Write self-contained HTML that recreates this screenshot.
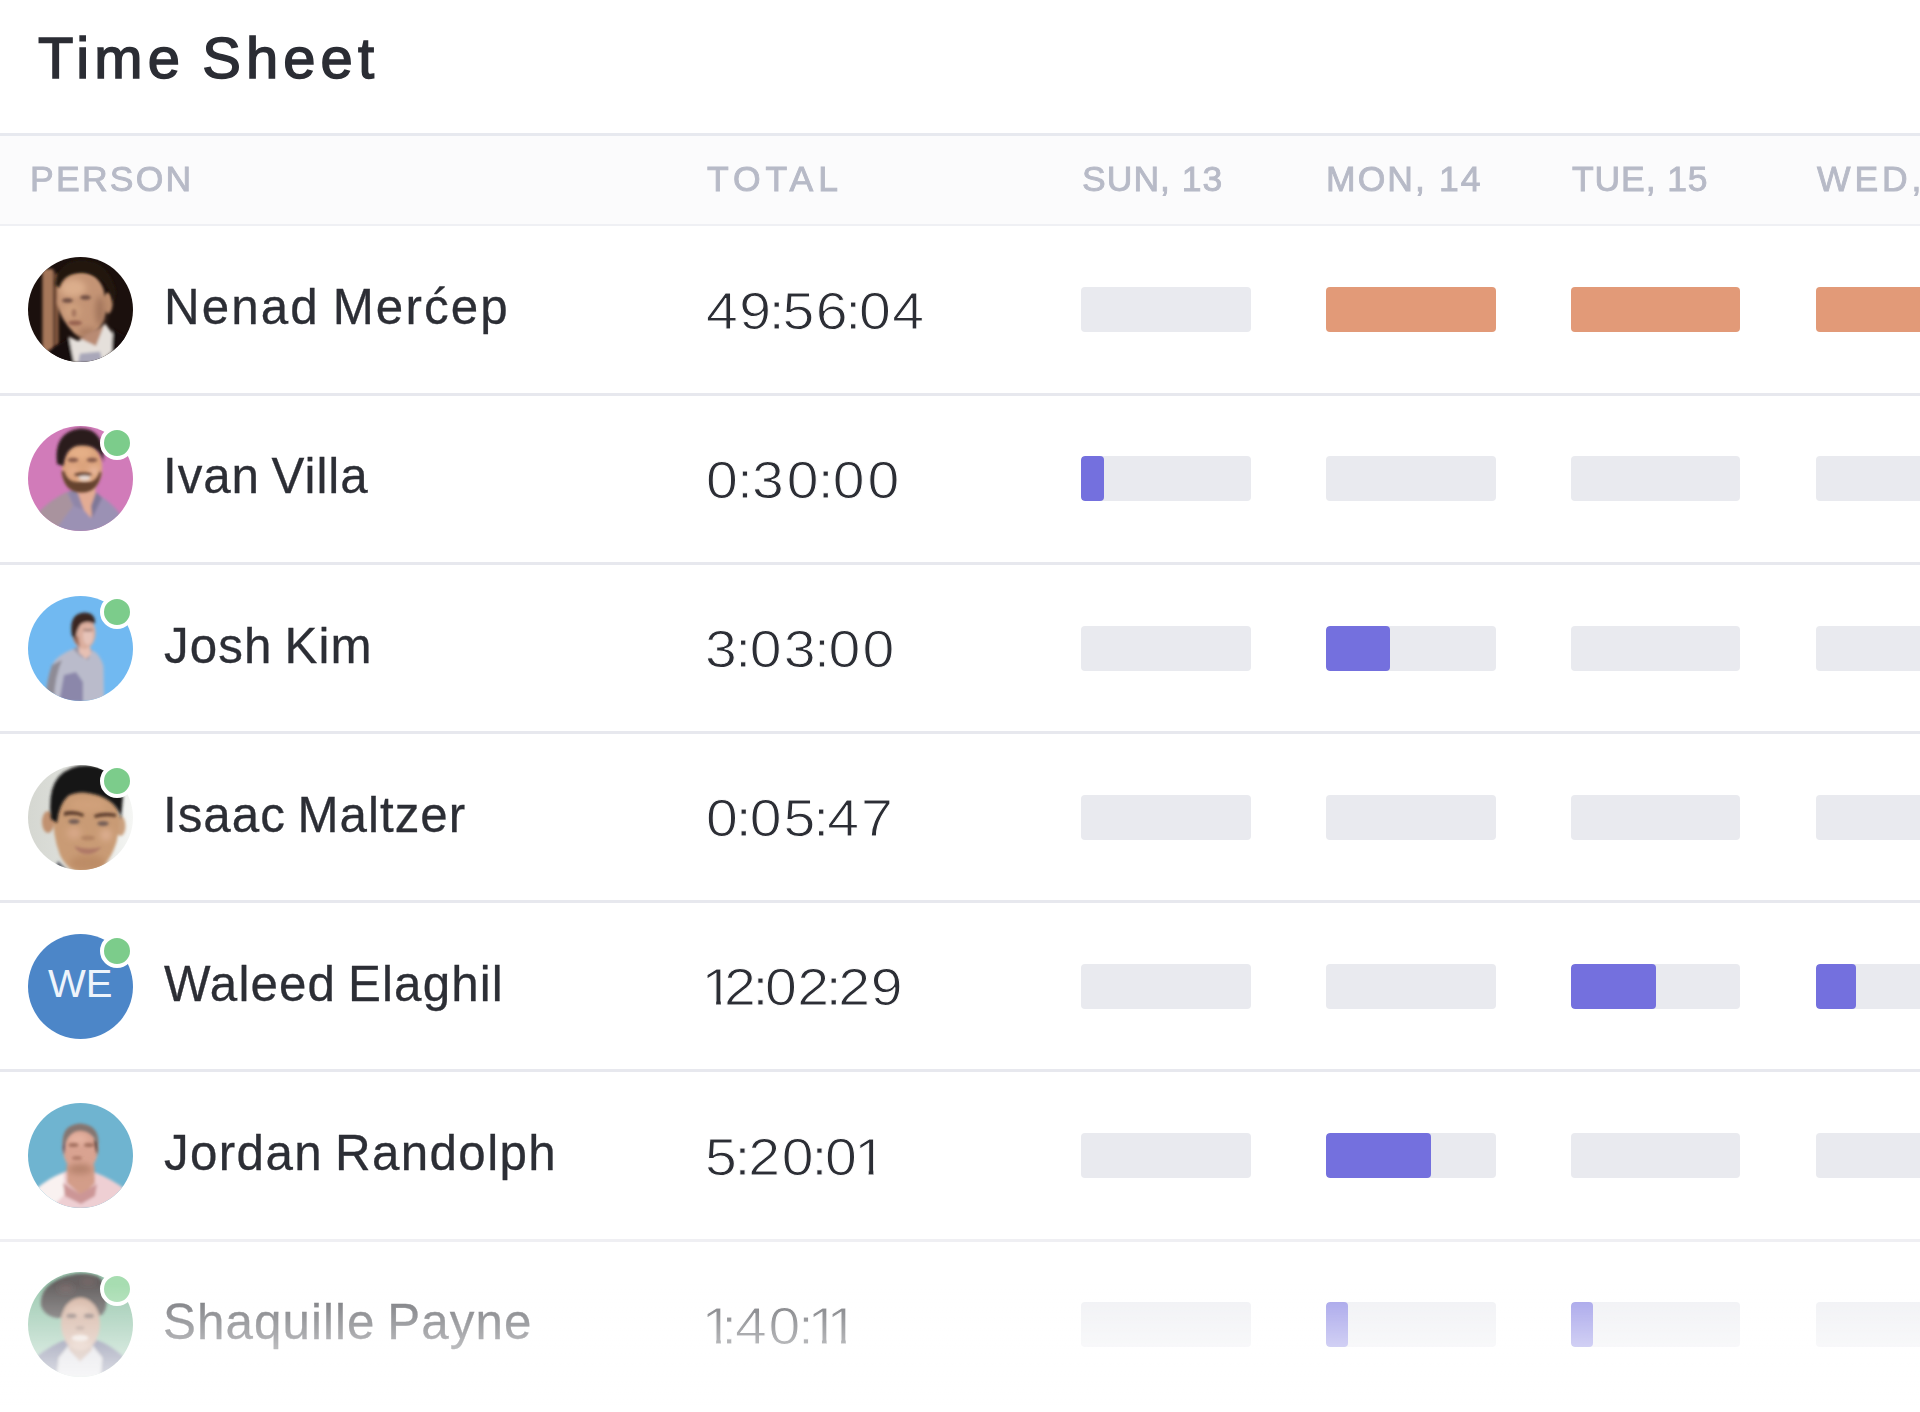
<!DOCTYPE html>
<html lang="en">
<head>
<meta charset="utf-8">
<title>Time Sheet</title>
<style>
html,body{margin:0;padding:0;}
html{overflow:hidden;}
body{width:1920px;height:1412px;overflow:hidden;background:#fff;
  font-family:"Liberation Sans","DejaVu Sans",sans-serif;color:#2a2c33;}
#page{position:absolute;left:0;top:0;width:1920px;height:1412px;overflow:hidden;background:#fff;}
.abs{position:absolute;white-space:nowrap;}
.name,.th{will-change:transform;}
#title{left:37.5px;top:23px;font-size:56.5px;line-height:72px;font-weight:400;color:#2b2d34;
  -webkit-text-stroke:1.5px #2b2d34;letter-spacing:5px;word-spacing:-4px;transform:scaleX(1.025);transform-origin:left center;}
#thead{left:0;top:133px;width:1920px;height:92.5px;background:#fbfbfc;
  border-top:3px solid #e7e9ef;border-bottom:2.5px solid #eff0f4;box-sizing:border-box;}
.th{top:158px;font-size:35.5px;line-height:42px;color:#b7bac7;-webkit-text-stroke:0.9px #b7bac7;letter-spacing:3.4px;}
.sep{left:0;width:1920px;height:3px;background:#e7e8ee;}
.name{left:164px;word-spacing:-3px;font-size:49.3px;line-height:60px;color:#2c2e35;-webkit-text-stroke:0.3px #2c2e35;}
.total{left:706px;font-size:52px;line-height:60px;color:#2c2e35;-webkit-text-stroke:1px #fff;
  transform:scaleX(1.1);transform-origin:left center;letter-spacing:1.8px;}
.total .c{margin:0 -3.5px;}
.total .one{display:inline-block;margin:0 -9px 0 -4px;clip-path:polygon(0 0,18.4px 0,18.4px 43.4px,17.45px 43.4px,17.45px 100%,13.25px 100%,13.25px 43.4px,0 43.4px);}
.bar{width:169.5px;height:45px;border-radius:4px;background:#e9eaef;overflow:hidden;}
.bar i{display:block;height:100%;background:#7470de;border-radius:4px;}
.bar.o{background:#e29a78;}
.av{left:28.3px;width:105px;height:105px;border-radius:50%;overflow:hidden;}
.av svg{display:block;}
.dot{left:99.6px;width:26px;height:26px;border-radius:50%;background:#7ccc8b;border:4px solid #fff;}
#fade{left:0;top:1234px;width:1920px;height:178px;
  background:linear-gradient(to bottom,rgba(255,255,255,.33) 0,rgba(255,255,255,.33) 50px,rgba(255,255,255,1) 173px);}
</style>
</head>
<body>
<svg width="0" height="0" style="position:absolute"><defs><filter id="b2" x="-10%" y="-10%" width="120%" height="120%"><feGaussianBlur stdDeviation="1.5"/></filter><filter id="b3" x="-20%" y="-20%" width="140%" height="140%"><feGaussianBlur stdDeviation="3.2"/></filter></defs></svg>
<div id="page">
<div class="abs" id="title">Time Sheet</div>
<div class="abs" id="thead"></div>
<div class="abs th" id="h0" style="left:29.6px;letter-spacing:2.26px">PERSON</div>
<div class="abs th" id="h1" style="left:707.1px;letter-spacing:4.96px">TOTAL</div>
<div class="abs th" id="h2" style="left:1082.1px;letter-spacing:1.03px">SUN, 13</div>
<div class="abs th" id="h3" style="left:1325.7px;letter-spacing:2.09px">MON, 14</div>
<div class="abs th" id="h4" style="left:1572.1px;letter-spacing:0.90px">TUE, 15</div>
<div class="abs th" id="h5" style="left:1817px;letter-spacing:3.9px">WED, 16</div>
<!--ROWS-->
<div class="abs sep" style="top:392.5px"></div>
<div class="abs av" style="top:257.1px"><svg viewBox="0 0 105 105" width="105" height="105"><rect width="105" height="105" fill="#1b100d"/>
<g filter="url(#b2)">
<rect x="14.4" y="12" width="10.6" height="84" fill="#a6775a"/>
<rect x="25" y="14" width="2.3" height="80" fill="#4f3225"/>
<rect x="27.2" y="17" width="3.4" height="72" fill="#8b5d43"/>
<ellipse cx="80" cy="46" rx="4.6" ry="10.5" fill="#bd8d6d"/>
<path d="M30 24 Q36 15 52 15 Q70 15 76 34 L77 56 Q74 72 64 78 Q55 83 46 76 Q34 64 29 46 Z" fill="#c49475"/>
</g>
<g filter="url(#b3)">
<ellipse cx="45" cy="31" rx="13" ry="9" fill="#dcae8c"/>
<ellipse cx="72" cy="54" rx="4.5" ry="15" fill="#a1735a"/>
<ellipse cx="44" cy="54" rx="9" ry="8" fill="#cfa07e"/>
<ellipse cx="60" cy="76" rx="10" ry="5" fill="#a97a60"/>
</g>
<g filter="url(#b2)">
<path d="M27 28 Q29 5 54 3 Q82 5 88 36 L85 46 Q82 31 75 24 Q63 13 48 16 Q36 18 31 31 Z" fill="#23150f"/>
<ellipse cx="39.5" cy="43.5" rx="5.5" ry="2.2" fill="#6d4b40"/>
<ellipse cx="57.5" cy="40.5" rx="5.5" ry="2.2" fill="#6d4b40"/>
<ellipse cx="46" cy="56" rx="2.5" ry="4" fill="#a87860"/>
<ellipse cx="47" cy="66" rx="7" ry="2.4" fill="#96604f"/>
<path d="M40.8 79.5 L50 84 L62 78 L77.3 66.8 L85 77 L84 95 L72 106 L45 106 Z" fill="#e5e0db"/>
<path d="M51 81 L76 68.5 L68 89 Z" fill="#b98b73"/>
<path d="M20 94 L40.8 81 L46 106 L22 106 Z" fill="#130b0a"/>
<path d="M52 96.5 L72 94.5 L75 106 L50 106 Z" fill="#a9a7b9"/>
<path d="M85 72 L104 82 L104 106 L84 106 Z" fill="#130b0a"/>
</g></svg></div>
<div class="abs name" id="n0" style="top:277.1px;left:163.5px;letter-spacing:2.12px">Nenad Merćep</div>
<div class="abs total" id="t0" style="left:706px;top:280.6px;letter-spacing:1.4px">49<span class="c">:</span>56<span class="c">:</span>04</div>
<div class="abs bar" style="left:1081.2px;top:287.1px"></div>
<div class="abs bar o" style="left:1326px;top:287.1px"></div>
<div class="abs bar o" style="left:1570.7px;top:287.1px"></div>
<div class="abs bar o" style="left:1815.5px;top:287.1px"></div>
<div class="abs sep" style="top:561.7px"></div>
<div class="abs av" style="top:426.3px"><svg viewBox="0 0 105 105" width="105" height="105"><rect width="105" height="105" fill="#d17bb9"/>
<g filter="url(#b2)">
<path d="M9 88 Q22 74 39 66 L69 68 Q84 76 95 92 L90 106 L14 106 Z" fill="#9b91b4"/>
<path d="M9 88 Q22 74 39 66 L45 80 L26 106 L12 106 Z" fill="#a9939e"/>
<path d="M48 58 L67 58 L68 74 L63 92 L56 84 L50 72 Z" fill="#e3ac94"/>
<path d="M40 66 L48 62 L56 84 L46 80 Z" fill="#8f86a8"/>
<path d="M68 66 L74 72 L64 92 L63 80 Z" fill="#7f7898"/>
<ellipse cx="54" cy="40" rx="20" ry="25" fill="#dba37c"/>
</g>
<g filter="url(#b3)">
<ellipse cx="52" cy="27" rx="12" ry="6" fill="#e6b088"/>
<ellipse cx="45" cy="45" rx="5" ry="4" fill="#e8b090"/>
<ellipse cx="66" cy="45" rx="5" ry="4" fill="#ecbca4"/>
</g>
<g filter="url(#b2)">
<path d="M33.5 45 Q36 67 54 66.5 Q70 66.5 73.5 47 L72 45 Q68 57 60 56 L50 56 Q40 57 36 45 Z" fill="#65422f"/>
<ellipse cx="55" cy="60.5" rx="9" ry="4.5" fill="#65422f"/>
<ellipse cx="55" cy="48.5" rx="9" ry="2.2" fill="#6a4636"/>
<ellipse cx="56.5" cy="52" rx="6" ry="2.6" fill="#e9dcd6"/>
<path d="M29 38 Q25 6 52 2.5 Q77 2 75.5 36 Q71 19 54 19.5 Q38 19 35.5 40 Z" fill="#2b1f1d"/>
<ellipse cx="45" cy="34" rx="5.5" ry="2.2" fill="#85594a"/>
<ellipse cx="64" cy="34" rx="5.5" ry="2.2" fill="#85594a"/>
</g></svg></div>
<div class="abs dot" style="top:425.9px"></div>
<div class="abs name" id="n1" style="top:446.3px;left:162.5px;letter-spacing:0.94px">Ivan Villa</div>
<div class="abs total" id="t1" style="left:706px;top:449.8px;letter-spacing:2.7px">0<span class="c">:</span>30<span class="c">:</span>00</div>
<div class="abs bar" style="left:1081.2px;top:456.3px"><i style="width:22.5px"></i></div>
<div class="abs bar" style="left:1326px;top:456.3px"></div>
<div class="abs bar" style="left:1570.7px;top:456.3px"></div>
<div class="abs bar" style="left:1815.5px;top:456.3px"></div>
<div class="abs sep" style="top:730.9px"></div>
<div class="abs av" style="top:595.5px"><svg viewBox="0 0 105 105" width="105" height="105"><rect width="105" height="105" fill="#71b9f1"/>
<g filter="url(#b2)">
<path d="M45 53 Q29 59 24 69 Q19 83 18 98 L30 106 L76 106 L75.5 70 Q72 58 64 54 Z" fill="#babbcb"/>
<path d="M24 69 Q19 83 18 98 L26 103 Q27 80 34 64 Z" fill="#8e8b95"/>
<path d="M36 79 L48 76 L55 86 L55 106 L31 106 Z" fill="#8b87aa"/>
<path d="M45 53 L52 60 L60 64 L64 54 L60 50 L50 50 Z" fill="#9b98a6"/>
<path d="M51 50 L62 50 L63 58 L58 63 L51 57 Z" fill="#e6c0b3"/>
<ellipse cx="56" cy="37" rx="11.5" ry="16" fill="#dbae9e"/>
<ellipse cx="60" cy="40" rx="5" ry="9" fill="#e6c3b8"/>
<path d="M45 42 Q47 48 52 51 L50 40 Z" fill="#9a6a58"/>
<path d="M44 40 Q40 18 56 16.5 Q68 16.5 67 28 Q59 24 53 28 Q49 32 47.5 43 Z" fill="#3a2820"/>
<ellipse cx="60" cy="34" rx="5" ry="1.5" fill="#a88478"/>
</g></svg></div>
<div class="abs dot" style="top:595.1px"></div>
<div class="abs name" id="n2" style="top:615.5px;left:164.2px;letter-spacing:1.12px">Josh Kim</div>
<div class="abs total" id="t2" style="left:705px;top:619px;letter-spacing:2.1px">3<span class="c">:</span>03<span class="c">:</span>00</div>
<div class="abs bar" style="left:1081.2px;top:625.5px"></div>
<div class="abs bar" style="left:1326px;top:625.5px"><i style="width:63.5px"></i></div>
<div class="abs bar" style="left:1570.7px;top:625.5px"></div>
<div class="abs bar" style="left:1815.5px;top:625.5px"></div>
<div class="abs sep" style="top:900.1px"></div>
<div class="abs av" style="top:764.7px"><svg viewBox="0 0 105 105" width="105" height="105"><defs><linearGradient id="g4" x1="0" x2="1"><stop offset="0" stop-color="#d5d7d1"/><stop offset="0.6" stop-color="#e2e4e0"/><stop offset="1" stop-color="#f5f6f4"/></linearGradient></defs>
<rect width="105" height="105" fill="url(#g4)"/>
<g filter="url(#b2)">
<ellipse cx="20" cy="57" rx="6" ry="11" fill="#c19170"/>
<ellipse cx="92.5" cy="61" rx="5" ry="10" fill="#caa07e"/>
<path d="M25 40 Q30 24 58 24 Q88 26 91 48 Q92 70 86 84 Q78 104 60 108 Q40 108 32 90 Q24 70 25 40 Z" fill="#c99b75"/>
<path d="M30 96 L40 106 L26 106 Z" fill="#5b5e66"/>
<path d="M84 98 L92 104 L80 108 Z" fill="#5b5e66"/>
</g>
<g filter="url(#b3)">
<ellipse cx="46" cy="68" rx="7" ry="6" fill="#d8a888"/>
<ellipse cx="78" cy="70" rx="6" ry="6" fill="#dcae90"/>
<ellipse cx="60" cy="40" rx="18" ry="7" fill="#d0a07a"/>
<ellipse cx="60" cy="98" rx="18" ry="8" fill="#bd8c66"/>
</g>
<g filter="url(#b2)">
<path d="M23 54 Q17 8 50 1 Q86 -5 95 32 L93 54 Q90 38 72 31 Q52 24 40 31 Q31 39 29 58 Z" fill="#191312"/>
<path d="M36 47 Q46 44 56 49 L55 52 Q46 48 36 51 Z" fill="#5a3b2b"/>
<path d="M66 50 Q76 46 88 49 L88 52 Q76 50 67 53 Z" fill="#5a3b2b"/>
<ellipse cx="46" cy="56.5" rx="5.5" ry="2.3" fill="#6f5a54"/>
<ellipse cx="75" cy="58.5" rx="5.5" ry="2.3" fill="#6f5a54"/>
<ellipse cx="60" cy="73" rx="7" ry="2.6" fill="#b38463"/>
<path d="M46 81 Q60 86 74 82 Q66 90 58 89 Q50 88 46 81 Z" fill="#ae7866"/>
</g></svg></div>
<div class="abs dot" style="top:764.3px"></div>
<div class="abs name" id="n3" style="top:784.7px;left:162.5px;letter-spacing:1.0px">Isaac Maltzer</div>
<div class="abs total" id="t3" style="left:706px;top:788.2px;letter-spacing:1.7px">0<span class="c">:</span>05<span class="c">:</span>47</div>
<div class="abs bar" style="left:1081.2px;top:794.7px"></div>
<div class="abs bar" style="left:1326px;top:794.7px"></div>
<div class="abs bar" style="left:1570.7px;top:794.7px"></div>
<div class="abs bar" style="left:1815.5px;top:794.7px"></div>
<div class="abs sep" style="top:1069.3px"></div>
<div class="abs av" style="top:933.9px"><svg viewBox="0 0 105 105" width="105" height="105"><rect width="105" height="105" fill="#4c86c8"/>
<text x="20" y="63.2" textLength="64.5" lengthAdjust="spacingAndGlyphs" font-family="Liberation Sans, sans-serif" font-size="38.5" fill="#eef4fb">WE</text></svg></div>
<div class="abs dot" style="top:933.5px"></div>
<div class="abs name" id="n4" style="top:953.9px;left:164.2px;letter-spacing:1.14px">Waleed Elaghil</div>
<div class="abs total" id="t4" style="left:706px;top:957.4px;letter-spacing:0.45px"><span class="one">1</span>2<span class="c">:</span>02<span class="c">:</span>29</div>
<div class="abs bar" style="left:1081.2px;top:963.9px"></div>
<div class="abs bar" style="left:1326px;top:963.9px"></div>
<div class="abs bar" style="left:1570.7px;top:963.9px"><i style="width:85.6px"></i></div>
<div class="abs bar" style="left:1815.5px;top:963.9px"><i style="width:40.7px"></i></div>
<div class="abs sep" style="top:1238.5px"></div>
<div class="abs av" style="top:1103.1px"><svg viewBox="0 0 105 105" width="105" height="105"><rect width="105" height="105" fill="#6fb4d0"/>
<g filter="url(#b2)">
<path d="M7 87 Q22 74 39 68 L67 69.5 Q84 76 98 87 L94 106 L12 106 Z" fill="#eecfd3"/>
<path d="M7 87 Q22 74 36 70 L36 92 L22 106 L10 106 Z" fill="#f9f1f0"/>
<path d="M39 62 L66 62 L67 80 L54 93 L39 80 Z" fill="#d39d89"/>
<path d="M35 80 L52 91 L69 81 L67 93 L53 101 L37 93 Z" fill="#cc9696"/>
<ellipse cx="52.5" cy="46" rx="17.5" ry="23" fill="#d9a391"/>
</g>
<g filter="url(#b3)">
<ellipse cx="50" cy="36" rx="10" ry="5" fill="#e6b4a2"/>
<ellipse cx="52" cy="66" rx="12" ry="5" fill="#b5826c"/>
</g>
<g filter="url(#b2)">
<path d="M35 43 Q32.5 22 52 20.5 Q72.5 22 70 43 Q66 28.5 52 27.5 Q40 28.5 36.5 43 Z" fill="#84746f"/>
<path d="M66 36 Q71 40 69 52 L67 44 Z" fill="#4a3a38"/>
<path d="M37 38 Q33 42 36 52 L37 44 Z" fill="#5a5060"/>
<ellipse cx="45.5" cy="42" rx="5" ry="2" fill="#a3705f"/>
<ellipse cx="61" cy="42" rx="5" ry="2" fill="#a3705f"/>
<ellipse cx="49" cy="55" rx="5" ry="2" fill="#b27d6a"/>
</g></svg></div>
<div class="abs name" id="n5" style="top:1123.1px;left:164.2px;letter-spacing:1.37px">Jordan Randolph</div>
<div class="abs total" id="t5" style="left:705px;top:1126.6px;letter-spacing:1.5px">5<span class="c">:</span>20<span class="c">:</span>0<span class="one">1</span></div>
<div class="abs bar" style="left:1081.2px;top:1133.1px"></div>
<div class="abs bar" style="left:1326px;top:1133.1px"><i style="width:104.6px"></i></div>
<div class="abs bar" style="left:1570.7px;top:1133.1px"></div>
<div class="abs bar" style="left:1815.5px;top:1133.1px"></div>
<div class="abs av" style="top:1272.3px"><svg viewBox="0 0 105 105" width="105" height="105"><rect width="105" height="105" fill="#6eb08c"/>
<g filter="url(#b2)">
<path d="M7 86 Q24 72 40 67 L66 67 Q84 73 99 88 L94 106 L12 106 Z" fill="#2a3160"/>
<path d="M31 86 L43 71 L62 71 L74 86 L72 106 L29 106 Z" fill="#c9c9d2"/>
<path d="M41 62 L63 62 L64 78 L52 90 L41 78 Z" fill="#a57761"/>
<path d="M13 34 Q11 15 33 6 Q52 -2 69 4 Q80 10 78.5 31 Q78 41 72 44 L34 46 Q18 47 13 34 Z" fill="#1c1416"/>
<ellipse cx="52.5" cy="52" rx="19.5" ry="26" fill="#c09076"/>
</g>
<g filter="url(#b3)">
<ellipse cx="51" cy="38" rx="11" ry="5" fill="#d2a48a"/>
<ellipse cx="52" cy="72" rx="10" ry="5" fill="#cfa48e"/>
<ellipse cx="38" cy="16" rx="8" ry="4" fill="#3a2420"/>
<ellipse cx="60" cy="10" rx="8" ry="3" fill="#3a2420"/>
</g>
<g filter="url(#b2)">
<ellipse cx="43.5" cy="44" rx="5" ry="2.2" fill="#5c4038"/>
<ellipse cx="61" cy="44" rx="5" ry="2.2" fill="#5c4038"/>
<ellipse cx="52" cy="56" rx="4.5" ry="2" fill="#8e6450"/>
<ellipse cx="52" cy="66" rx="8.5" ry="3.2" fill="#e6d6cc"/>
</g></svg></div>
<div class="abs dot" style="top:1271.9px"></div>
<div class="abs name" id="n6" style="top:1292.3px;left:162.9px;letter-spacing:1.08px">Shaquille Payne</div>
<div class="abs total" id="t6" style="left:706px;top:1295.8px;letter-spacing:1.5px"><span class="one">1</span><span class="c">:</span>40<span class="c">:</span><span class="one">1</span><span class="one">1</span></div>
<div class="abs bar" style="left:1081.2px;top:1302.3px"></div>
<div class="abs bar" style="left:1326px;top:1302.3px"><i style="width:22.4px"></i></div>
<div class="abs bar" style="left:1570.7px;top:1302.3px"><i style="width:22.4px"></i></div>
<div class="abs bar" style="left:1815.5px;top:1302.3px"></div>
<!--/ROWS-->
<div class="abs" id="fade"></div>
</div>
</body>
</html>
